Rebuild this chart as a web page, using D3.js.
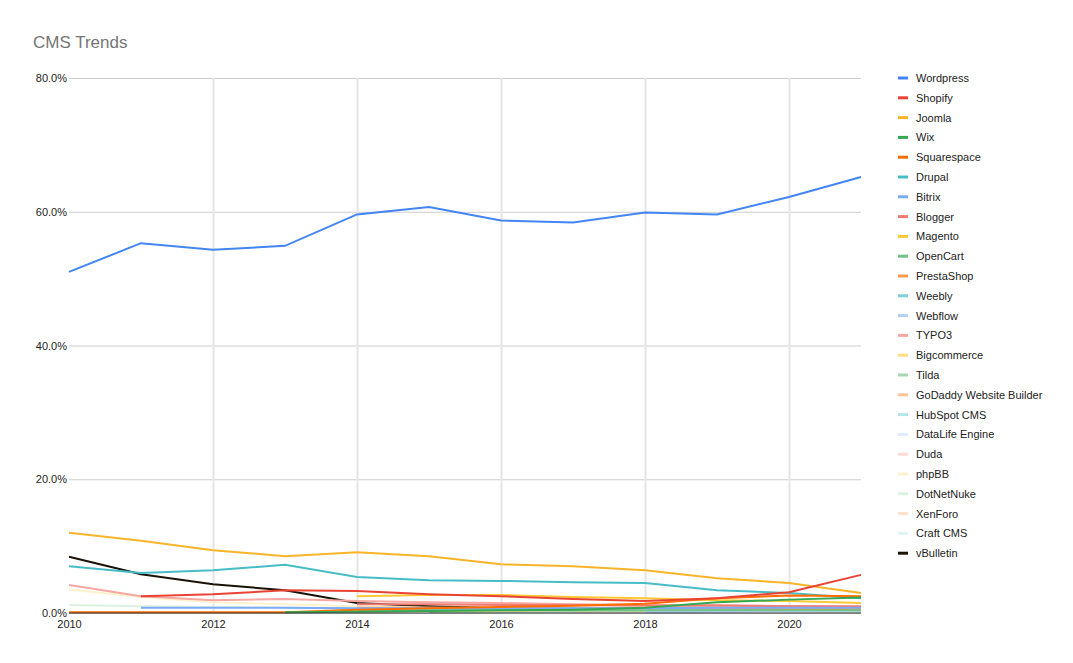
<!DOCTYPE html><html><head><meta charset="utf-8"><script src="https://cdn.jsdelivr.net/npm/d3@7"></script>
<style>body{margin:0;background:#fff;font-family:Arial,"Liberation Sans",sans-serif}</style></head><body><svg id="c" width="1073" height="663"></svg>
<script>
const years=[2010,2011,2012,2013,2014,2015,2016,2017,2018,2019,2020,2021];
const names=["Wordpress","Shopify","Joomla","Wix","Squarespace","Drupal","Bitrix","Blogger","Magento","OpenCart","PrestaShop","Weebly","Webflow","TYPO3","Bigcommerce","Tilda","GoDaddy Website Builder","HubSpot CMS","DataLife Engine","Duda","phpBB","DotNetNuke","XenForo","Craft CMS","vBulletin"];
const colors=["#4285F4","#EA4335","#F9B42A","#34A853","#FF6D01","#46BDC6","#7BAAF7","#F07B72","#FCC934","#71C287","#FF994D","#7ED1D7","#B3CEFB","#F7A7A1","#FDDE82","#A7D9B3","#FFC599","#B5E5E8","#E1EBFD","#FBDCD9","#FEF2CD","#DCF0E1","#FFE2CC","#E0F5F6","#1a1206"];
const N=null;
const values=[
[51.0,55.3,54.3,54.9,59.6,60.7,58.7,58.4,59.9,59.6,62.2,65.2],
[N,2.5,2.8,3.4,3.3,2.8,2.5,2.1,1.8,2.2,3.1,5.7],
[12.0,10.8,9.4,8.5,9.1,8.5,7.3,7.0,6.4,5.2,4.5,3.0],
[N,N,N,0.1,0.2,0.3,0.4,0.5,0.8,1.6,2.0,2.3],
[0.1,0.1,0.1,0.1,0.5,0.7,0.9,1.1,1.4,2.2,2.6,2.5],
[7.0,6.0,6.4,7.2,5.4,4.9,4.8,4.6,4.5,3.4,3.0,2.2],
[N,0.8,0.8,0.8,0.7,0.7,0.7,0.7,0.7,0.8,0.8,0.8],
[N,N,N,N,1.3,1.3,1.2,1.2,1.1,1.1,1.0,1.0],
[N,N,N,N,2.5,2.7,2.7,2.4,2.2,1.9,1.8,1.5],
[N,N,N,N,0.4,0.4,0.4,0.4,0.4,0.4,0.4,0.4],
[N,N,N,N,0.8,0.8,0.8,0.7,0.7,0.7,0.6,0.6],
[N,N,N,N,0.6,0.7,0.8,0.8,0.7,0.6,0.5,0.4],
[N,N,N,N,N,N,N,N,0.1,0.2,0.3,0.4],
[4.2,2.5,1.9,2.1,1.8,1.6,1.5,1.3,1.2,1.2,1.0,0.9],
[N,N,N,N,0.2,0.3,0.3,0.4,0.4,0.5,0.5,0.5],
[N,N,N,N,N,0.1,0.2,0.3,0.3,0.4,0.4,0.4],
[N,N,N,N,N,N,N,0.2,0.3,0.5,0.6,0.7],
[N,N,N,N,N,N,0.1,0.2,0.3,0.3,0.4,0.4],
[N,N,N,N,0.5,0.5,0.5,0.5,0.5,0.4,0.4,0.3],
[N,N,N,N,N,N,0.1,0.2,0.2,0.3,0.3,0.3],
[3.5,2.4,1.6,1.3,1.0,0.8,0.7,0.6,0.5,0.4,0.4,0.3],
[1.2,1.0,0.9,0.8,0.6,0.5,0.4,0.4,0.3,0.3,0.2,0.2],
[N,N,N,N,0.5,0.5,0.5,0.4,0.4,0.4,0.3,0.3],
[N,N,N,N,N,N,0.1,0.1,0.2,0.2,0.2,0.2],
[8.4,5.8,4.3,3.4,1.5,1.0,0.7,0.6,0.45,0.3,0.3,0.15]];
const yTicks=[0,20,40,60,80];
const xTicks=[2010,2012,2014,2016,2018,2020];

const svg=d3.select("#c");
const x=d3.scaleLinear().domain([2010,2021]).range([69,861]);
const y=d3.scaleLinear().domain([0,80]).range([613,78]);
svg.append("text").attr("x",33).attr("y",48).attr("font-size",17).attr("fill","#757575").text("CMS Trends");
const gy=svg.append("g").attr("transform","translate(69,0)").call(d3.axisLeft(y).tickValues(yTicks).tickSizeInner(-792).tickSizeOuter(0).tickFormat(d=>d.toFixed(1)+"%"));
gy.select(".domain").remove();
gy.selectAll("line").attr("stroke","#cccccc");
gy.selectAll("text").attr("font-size",11).attr("fill","#222").attr("x",-2).attr("font-family","Arial,'Liberation Sans',sans-serif");
const gx=svg.append("g").attr("transform","translate(0,613)").call(d3.axisBottom(x).tickValues(xTicks).tickSizeInner(-535).tickSizeOuter(0).tickFormat(d3.format("d")));
gx.select(".domain").remove();
gx.selectAll("line").attr("stroke",d=>d===2010?"none":"#e5e5e5").attr("stroke-width",2);
gx.selectAll("text").attr("font-size",11).attr("fill","#222").attr("y",7).attr("font-family","Arial,'Liberation Sans',sans-serif");
const line=d3.line().defined(d=>d[1]!==null).x(d=>x(d[0])).y(d=>y(d[1]));
for(let i=names.length-1;i>=0;i--){
 svg.append("path").attr("d",line(years.map((yr,j)=>[yr,values[i][j]]))).attr("fill","none").attr("stroke",colors[i]).attr("stroke-width",2);
}
svg.append("line").attr("x1",69).attr("x2",861).attr("y1",613).attr("y2",613).attr("stroke","#333");
const lg=svg.append("g");
names.forEach((n,i)=>{const yy=78+i*19.8;
 lg.append("line").attr("x1",898).attr("x2",908).attr("y1",yy).attr("y2",yy).attr("stroke",colors[i]).attr("stroke-width",3);
 lg.append("text").attr("x",916).attr("y",yy+4).attr("font-size",11).attr("fill","#222").text(n);});
</script></body></html>
